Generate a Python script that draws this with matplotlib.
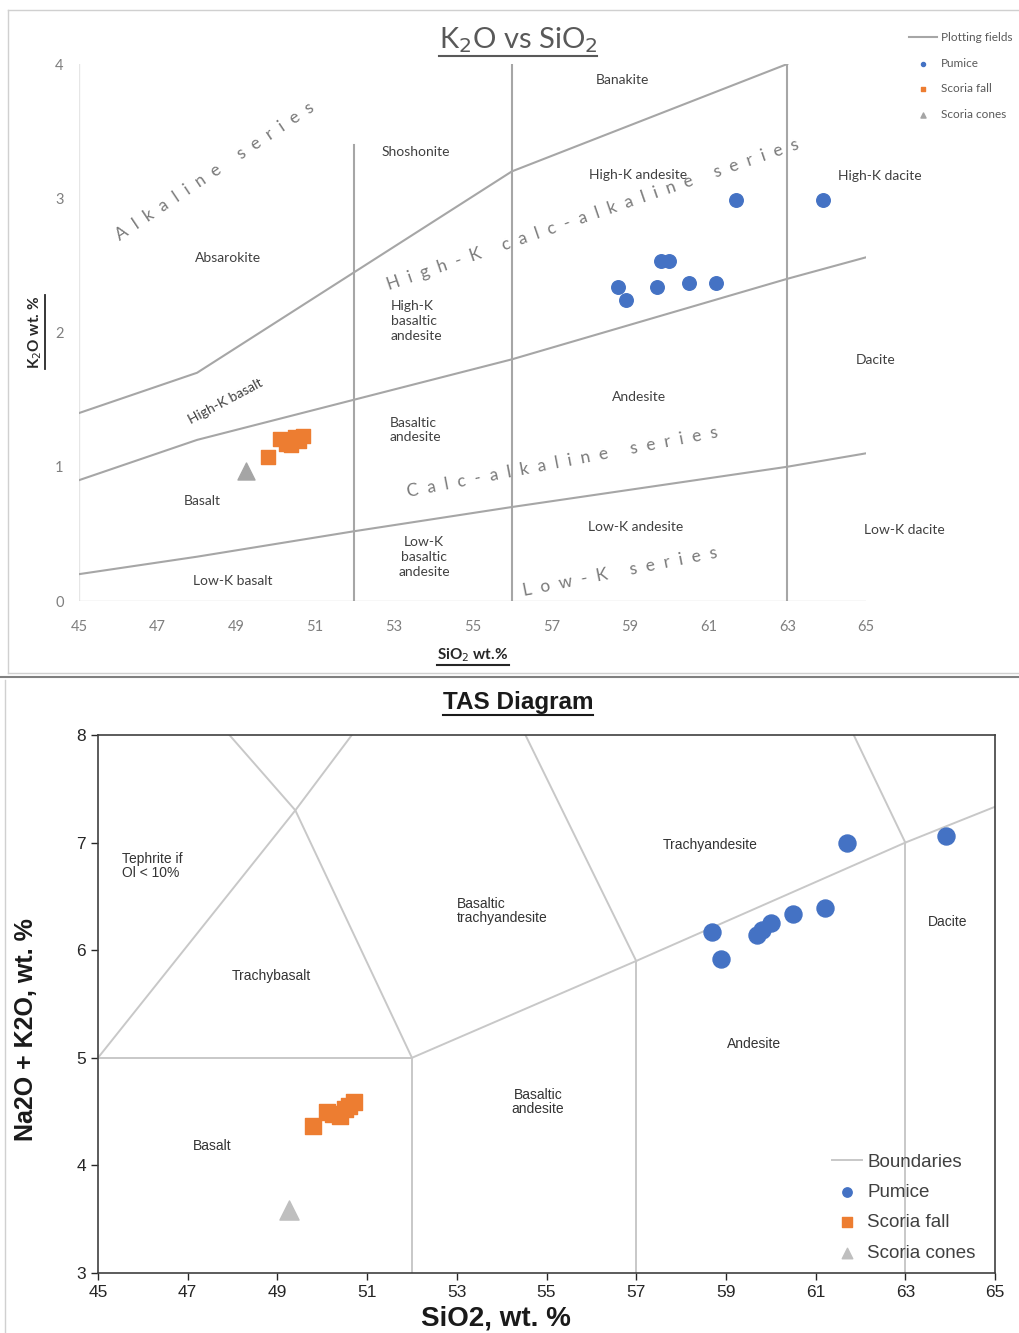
import matplotlib.pyplot as plt
from matplotlib.lines import Line2D

# sample values
pumice_sio2 = [58.7, 58.9, 59.7, 59.8, 60.0, 60.5, 61.2, 61.7, 63.9]
pumice_k2o = [2.34, 2.24, 2.34, 2.53, 2.53, 2.37, 2.37, 2.99, 2.99]
pumice_alk = [6.17, 5.92, 6.14, 6.19, 6.25, 6.34, 6.39, 7.00, 7.06]

fall_sio2 = [49.8, 50.1, 50.25, 50.4, 50.5, 50.6, 50.7]
fall_k2o = [1.07, 1.21, 1.17, 1.16, 1.22, 1.19, 1.23]
fall_alk = [4.37, 4.50, 4.48, 4.46, 4.52, 4.55, 4.59]

cone_sio2 = [49.25]
cone_k2o = [0.97]
cone_alk = [3.59]

# K2O vs SiO2 field boundaries
alk_x = [45, 48, 56, 63]
alk_y = [1.4, 1.7, 3.2, 4.0]
hk_x = [45, 48, 52, 56, 63, 65]
hk_y = [0.9, 1.2, 1.5, 1.8, 2.4, 2.56]
lk_x = [45, 48, 52, 56, 63, 65]
lk_y = [0.2, 0.33, 0.52, 0.7, 1.0, 1.1]
vert_x = [52, 56, 63]
vert_top = [3.4, 4.0, 4.0]

# TAS boundaries (segments)
tas_lines = [
    ([45, 52], [5, 5]),
    ([45, 49.4, 50.66], [5, 7.3, 8]),
    ([52, 49.4, 47.93], [5, 7.3, 8]),
    ([52, 57, 63, 65], [5, 5.9, 7, 7.333]),
    ([52, 52], [3, 5]),
    ([57, 57], [3, 5.9]),
    ([63, 63], [3, 7]),
    ([57, 54.53], [5.9, 8]),
    ([63, 61.85], [7, 8]),
]

blue = '#4472C4'
orange = '#ED7D31'
grey = '#A5A5A5'

W, H = 1019, 1333
fig = plt.figure(figsize=(W / 100, H / 100), dpi=100)


def fx(px):
    return px / W


def fy(py):
    return 1 - py / H


# panel frames
fig.add_artist(Line2D([fx(8), fx(8)], [fy(10), fy(673)], color='#d0d0d0', lw=1))
fig.add_artist(Line2D([fx(8), fx(1019)], [fy(10), fy(10)], color='#d0d0d0', lw=1))
fig.add_artist(Line2D([fx(8), fx(1019)], [fy(673), fy(673)], color='#d0d0d0', lw=1))
fig.add_artist(Line2D([0, 1], [fy(677), fy(677)], color='#808080', lw=1.5))
fig.add_artist(Line2D([fx(5), fx(5)], [fy(680), 0], color='#d0d0d0', lw=1))

# ---------------- K2O vs SiO2 ----------------
ax1 = fig.add_axes([fx(79), fy(601), fx(866) - fx(79), fy(64) - fy(601)])
ax1.set_xlim(45, 65)
ax1.set_ylim(0, 4)
for s in ax1.spines.values():
    s.set_visible(False)
ax1.plot([45, 45], [0, 4], color='#e6e6e6', lw=1, zorder=1)
ax1.plot([45, 65], [0, 0], color='#d9d9d9', lw=1, zorder=1)

lc = '#a6a6a6'
ax1.plot(alk_x, alk_y, color=lc, lw=1.5, label='Plotting fields')
ax1.plot(hk_x, hk_y, color=lc, lw=1.5)
ax1.plot(lk_x, lk_y, color=lc, lw=1.5)
for x, t in zip(vert_x, vert_top):
    ax1.plot([x, x], [0, t], color=lc, lw=1.5)

ax1.scatter(pumice_sio2, pumice_k2o, s=95, color=blue, marker='o', label='Pumice', zorder=3)
ax1.scatter(fall_sio2, fall_k2o, s=95, color=orange, marker='s', label='Scoria fall', zorder=3)
ax1.scatter(cone_sio2, cone_k2o, s=150, color=grey, marker='^', label='Scoria cones', zorder=3)

ax1.set_xticks(range(45, 66, 2))
ax1.set_yticks(range(0, 5))
ax1.tick_params(length=0, labelsize=10.5, colors='#7f7f7f')
ax1.tick_params(axis='x', pad=14)
ax1.tick_params(axis='y', pad=11)
for lab in ax1.get_xticklabels() + ax1.get_yticklabels():
    lab.set_family('Lato')

f1 = 'Lato'
tc = '#404040'
fs = 10
region = [
    (622, 80, 'Banakite', 'center'),
    (416, 152, 'Shoshonite', 'center'),
    (638, 175, 'High-K andesite', 'center'),
    (880, 176, 'High-K dacite', 'center'),
    (228, 258, 'Absarokite', 'center'),
    (391, 321, 'High-K\nbasaltic\nandesite', 'left'),
    (876, 360, 'Dacite', 'center'),
    (390, 430, 'Basaltic\nandesite', 'left'),
    (639, 397, 'Andesite', 'center'),
    (202, 501, 'Basalt', 'center'),
    (636, 527, 'Low-K andesite', 'center'),
    (904, 530, 'Low-K dacite', 'center'),
    (424, 557, 'Low-K\nbasaltic\nandesite', 'center'),
    (233, 581, 'Low-K basalt', 'center'),
]
for px, py, txt, ha in region:
    fig.text(fx(px), fy(py), txt, ha=ha, va='center', fontsize=fs, family=f1,
             color=tc, linespacing=1.25, multialignment=ha)
fig.text(fx(226), fy(401), 'High-K basalt', ha='center', va='center', fontsize=fs,
         family=f1, color=tc, rotation=28, rotation_mode='anchor')


def spaced(s):
    return '  '.join(s).replace('      ', '     ')


series = [
    (215, 171, 'Alkaline series', 33.8),
    (593, 215, 'High-K calc-alkaline series', 19.0),
    (562, 462, 'Calc-alkaline series', 10.9),
    (620, 572, 'Low-K series', 11.2),
]
for px, py, txt, rot in series:
    fig.text(fx(px), fy(py), spaced(txt), ha='center', va='center', fontsize=12.5,
             family=f1, color='#7a7a7a', rotation=rot, rotation_mode='anchor')

t1 = fig.text(fx(518), fy(40), 'K$_2$O vs SiO$_2$', ha='center', va='center', fontsize=21,
              family=f1, color='#595959')
xl1 = fig.text(fx(473), fy(655), 'SiO$_2$ wt.%', ha='center', va='center', fontsize=11,
               family=f1, weight='bold', color='#262626')
yl1 = fig.text(fx(35), fy(332), 'K$_2$O wt. %', ha='center', va='center', fontsize=11,
               family=f1, weight='bold', color='#262626', rotation=90)

leg1 = ax1.legend(loc='upper left', bbox_to_anchor=(fx(903), fy(26)),
                  bbox_transform=fig.transFigure, frameon=False, fontsize=8.5,
                  handlelength=2.4, handletextpad=0.3, labelspacing=1.25, markerscale=0.3,
                  borderpad=0)
for t in leg1.get_texts():
    t.set_color('#595959')
    t.set_family('Lato')

# ---------------- TAS ----------------
ax2 = fig.add_axes([fx(98), fy(1273), fx(995) - fx(98), fy(735) - fy(1273)])
ax2.set_xlim(45, 65)
ax2.set_ylim(3, 8)
for s in ax2.spines.values():
    s.set_color('#404040')
    s.set_linewidth(1.2)

bc = '#c8c8c8'
for i, (xs, ys) in enumerate(tas_lines):
    ax2.plot(xs, ys, color=bc, lw=1.4, label='Boundaries' if i == 0 else None)

ax2.scatter(pumice_sio2, pumice_alk, s=150, color=blue, marker='o', label='Pumice', zorder=3)
ax2.scatter(fall_sio2, fall_alk, s=140, color=orange, marker='s', label='Scoria fall', zorder=3)
ax2.scatter(cone_sio2, cone_alk, s=190, color='#BFBFBF', marker='^', label='Scoria cones', zorder=3)

ax2.set_xticks(range(45, 66, 2))
ax2.set_yticks(range(3, 9))
ax2.tick_params(direction='out', length=5, width=1, labelsize=12.5, colors='#262626')
for lab in ax2.get_xticklabels() + ax2.get_yticklabels():
    lab.set_family('Liberation Sans')

f2 = 'Liberation Sans'
tas_region = [
    (122, 866, 'Tephrite if\nOl < 10%', 'left'),
    (271, 976, 'Trachybasalt', 'center'),
    (457, 911, 'Basaltic\ntrachyandesite', 'left'),
    (710, 845, 'Trachyandesite', 'center'),
    (948, 922, 'Dacite', 'center'),
    (754, 1044, 'Andesite', 'center'),
    (538, 1102, 'Basaltic\nandesite', 'center'),
    (212, 1146, 'Basalt', 'center'),
]
for px, py, txt, ha in tas_region:
    fig.text(fx(px), fy(py), txt, ha=ha, va='center', fontsize=10, family=f2,
             color='#333333', multialignment=ha, linespacing=1.05)

leg2 = ax2.legend(loc='lower right', bbox_to_anchor=(fx(985), fy(1271)),
                  bbox_transform=fig.transFigure, frameon=False,
                  handlelength=1.6, handletextpad=0.3, labelspacing=0.7, markerscale=0.55,
                  borderpad=0, prop={'family': f2, 'size': 13.5})
for t in leg2.get_texts():
    t.set_color('#404040')

t2 = fig.text(fx(518), fy(702), 'TAS Diagram', ha='center', va='center', fontsize=17.5,
              family=f2, weight='bold', color='#1a1a1a')
fig.text(fx(496), fy(1318), 'SiO2, wt. %', ha='center', va='center', fontsize=20,
         family=f2, weight='bold', color='#1a1a1a')
fig.text(fx(26), fy(1030), 'Na2O + K2O, wt. %', ha='center', va='center', fontsize=18,
         family=f2, weight='bold', color='#1a1a1a', rotation=90)

# underlines under titles and axis labels
fig.canvas.draw()
r = fig.canvas.get_renderer()
for t, c in [(t1, '#595959'), (xl1, '#262626'), (t2, '#1a1a1a')]:
    bb = t.get_window_extent(r)
    fig.add_artist(Line2D([bb.x0 / W, bb.x1 / W], [(bb.y0 - 1) / H] * 2, color=c, lw=1.5))
bb = yl1.get_window_extent(r)
fig.add_artist(Line2D([(bb.x1 + 1) / W] * 2, [bb.y0 / H, bb.y1 / H], color='#262626', lw=1.3))

fig.savefig('out.png', dpi=100)
